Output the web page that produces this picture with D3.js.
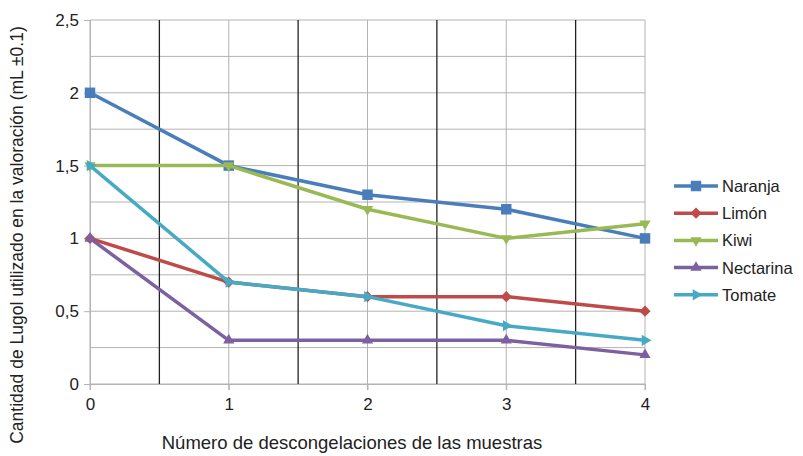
<!DOCTYPE html>
<html>
<head>
<meta charset="utf-8">
<script src="https://cdn.jsdelivr.net/npm/d3@7"></script>
<style>
  body { margin: 0; background: #fff; }
  text { font-family: "Liberation Sans", Arial, sans-serif; fill: #222; }
</style>
</head>
<body>
<div id="chart"></div>
<script>
const xValues = [0, 1, 2, 3, 4];
const yTicks = [0, 0.5, 1, 1.5, 2, 2.5];
const naranja = [2, 1.5, 1.3, 1.2, 1.0];
const limon = [1, 0.7, 0.6, 0.6, 0.5];
const kiwi = [1.5, 1.5, 1.2, 1.0, 1.1];
const nectarina = [1, 0.3, 0.3, 0.3, 0.2];
const tomate = [1.5, 0.7, 0.6, 0.4, 0.3];

const series = [
    { name: "Naranja", values: naranja, color: "#4a7ebb", symbol: "square" },
    { name: "Limón", values: limon, color: "#be4b48", symbol: "diamond" },
    { name: "Kiwi", values: kiwi, color: "#98b954", symbol: "down" },
    { name: "Nectarina", values: nectarina, color: "#7d60a0", symbol: "up" },
    { name: "Tomate", values: tomate, color: "#46aac5", symbol: "right" }
];

const width = 803, height = 456;
const margin = { top: 20, right: 158, bottom: 72, left: 90 };

const svg = d3.select("#chart")
    .append("svg")
    .attr("width", width)
    .attr("height", height);

const x = d3.scaleLinear().domain([0, 4]).range([margin.left, width - margin.right]);
const y = d3.scaleLinear().domain([0, 2.5]).range([height - margin.bottom, margin.top]);

const grid = svg.append("g");

// horizontal gridlines every 0.25
grid.selectAll("line.h")
    .data(d3.range(0, 2.51, 0.25))
    .enter().append("line")
    .attr("x1", x(0)).attr("x2", x(4))
    .attr("y1", d => y(d)).attr("y2", d => y(d))
    .attr("stroke", "#b3b3b3").attr("stroke-width", 1);

// gray verticals at integer positions
grid.selectAll("line.v")
    .data(xValues)
    .enter().append("line")
    .attr("x1", d => x(d)).attr("x2", d => x(d))
    .attr("y1", y(2.5)).attr("y2", y(0) + 6)
    .attr("stroke", "#b3b3b3").attr("stroke-width", 1);

// black verticals between the categories
grid.selectAll("line.vm")
    .data([0.5, 1.5, 2.5, 3.5])
    .enter().append("line")
    .attr("x1", d => x(d)).attr("x2", d => x(d))
    .attr("y1", y(2.5)).attr("y2", y(0))
    .attr("stroke", "#222").attr("stroke-width", 1.3);

// y axis
const yAxis = svg.append("g")
    .attr("transform", `translate(${x(0)},0)`)
    .call(d3.axisLeft(y).tickValues(yTicks).tickSize(6).tickFormat(d => String(d).replace(".", ",")));
yAxis.select(".domain").attr("stroke", "#b3b3b3");
yAxis.selectAll(".tick line").attr("stroke", "#b3b3b3");
yAxis.selectAll(".tick text")
    .attr("x", -11)
    .style("font-size", "17px")
    .style("font-family", "'Liberation Sans', Arial, sans-serif")
    .attr("fill", "#222");

// x axis
const xAxis = svg.append("g")
    .attr("transform", `translate(0,${y(0)})`)
    .call(d3.axisBottom(x).tickValues(xValues).tickSize(6).tickFormat(d3.format("d")));
xAxis.select(".domain").attr("stroke", "#b3b3b3");
xAxis.selectAll(".tick line").attr("stroke", "#b3b3b3");
xAxis.selectAll(".tick text")
    .attr("y", 14)
    .style("font-size", "17px")
    .style("font-family", "'Liberation Sans', Arial, sans-serif")
    .attr("fill", "#222");

const symbolFor = (s) => {
    if (s === "square") return d3.symbol(d3.symbolSquare, 110);
    if (s === "diamond") return d3.symbol(d3.symbolDiamond2, 80);
    return d3.symbol(d3.symbolTriangle2, 90);
};
const rotFor = (s) => s === "down" ? 180 : s === "right" ? 90 : 0;

const line = d3.line()
    .x((d, i) => x(xValues[i]))
    .y(d => y(d));

series.forEach(s => {
    const g = svg.append("g");
    g.append("path")
        .datum(s.values)
        .attr("d", line)
        .attr("fill", "none")
        .attr("stroke", s.color)
        .attr("stroke-width", 3.5)
        .attr("stroke-linejoin", "round");
    g.selectAll("path.m")
        .data(s.values)
        .enter().append("path")
        .attr("d", symbolFor(s.symbol))
        .attr("transform", (d, i) => `translate(${x(xValues[i])},${y(d)}) rotate(${rotFor(s.symbol)})`)
        .attr("fill", s.color);
});

// legend
const legend = svg.append("g").attr("transform", "translate(674,186)");
series.forEach((s, i) => {
    const row = legend.append("g").attr("transform", `translate(0,${i * 27.2})`);
    row.append("line")
        .attr("x1", 0).attr("x2", 44)
        .attr("stroke", s.color).attr("stroke-width", 3.5);
    row.append("path")
        .attr("d", symbolFor(s.symbol))
        .attr("transform", `translate(22,0) rotate(${rotFor(s.symbol)})`)
        .attr("fill", s.color);
    row.append("text")
        .attr("x", 48).attr("y", 6)
        .style("font-size", "16.5px")
        .text(s.name);
});

// axis titles
svg.append("text")
    .attr("x", 352).attr("y", 449)
    .attr("text-anchor", "middle")
    .style("font-size", "18.5px")
    .text("Número de descongelaciones de las muestras");

svg.append("text")
    .attr("transform", `translate(23,235) rotate(-90)`)
    .attr("text-anchor", "middle")
    .style("font-size", "17.5px")
    .text("Cantidad de Lugol utilizado en la valoración (mL ±0.1)");
</script>
</body>
</html>
